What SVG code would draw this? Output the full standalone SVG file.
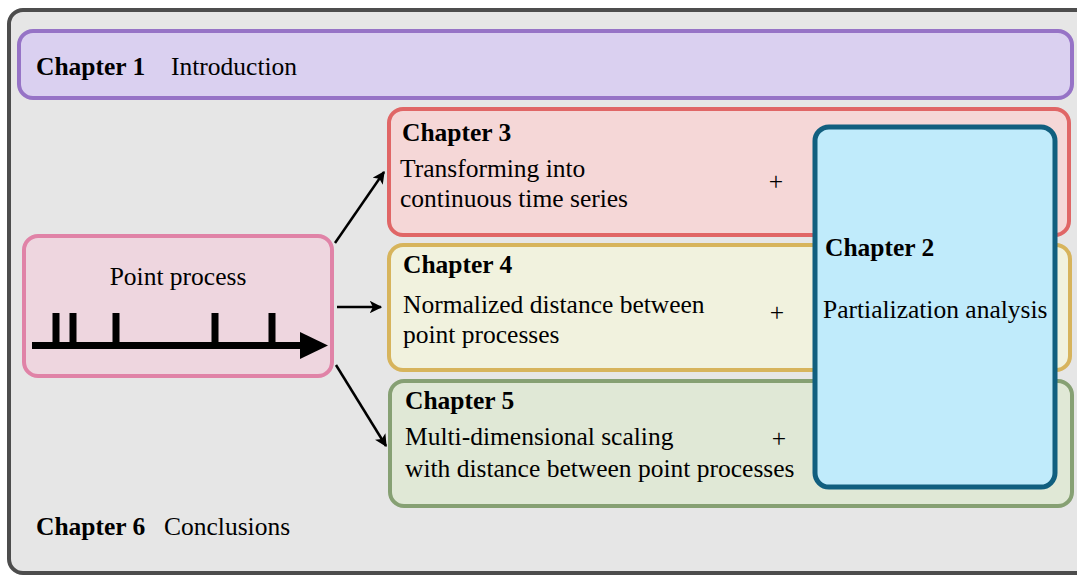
<svg xmlns="http://www.w3.org/2000/svg" width="1077" height="576" viewBox="0 0 1077 576">
<style>
text{font-family:"Liberation Serif","Times New Roman",serif;font-size:25.5px;fill:#000}
.b{font-weight:bold}
.conn{stroke:#000;stroke-width:2.5;fill:none}
</style>
<defs>
<marker id="ah" viewBox="0 0 10 10" refX="9" refY="5" markerWidth="5" markerHeight="5" orient="auto" markerUnits="strokeWidth">
<path d="M0,0 L10,5 L0,10 L2.5,5 Z" fill="#000"/>
</marker>
</defs>
<rect width="1077" height="576" fill="#fff"/>
<g id="ch6">
<rect x="9" y="10" width="1090" height="563" rx="14" fill="#e6e6e6" stroke="#4d4d4d" stroke-width="4"/>
<text x="36" y="535"><tspan class="b">Chapter 6</tspan><tspan x="164">Conclusions</tspan></text>
</g>
<g id="ch1">
<rect x="19" y="31" width="1053" height="67" rx="14" fill="#dad0f0" stroke="#9673c6" stroke-width="4"/>
<text x="36" y="75"><tspan class="b">Chapter 1</tspan><tspan x="171">Introduction</tspan></text>
</g>
<g id="pp">
<rect x="24" y="236" width="308" height="140" rx="14" fill="#eed6df" stroke="#e083a7" stroke-width="4"/>
<text x="178" y="285" text-anchor="middle">Point process</text>
<line x1="32" y1="345.5" x2="305" y2="345.5" stroke="#000" stroke-width="7"/>
<path d="M300,332 L328,345.5 L300,359 Z" fill="#000"/>
<g stroke="#000" stroke-width="7">
<line x1="56" y1="313" x2="56" y2="345"/>
<line x1="73" y1="313" x2="73" y2="345"/>
<line x1="116" y1="313" x2="116" y2="345"/>
<line x1="215" y1="313" x2="215" y2="345"/>
<line x1="272" y1="313" x2="272" y2="345"/>
</g>
</g>
<g id="ch3">
<rect x="389" y="109" width="680" height="126" rx="14" fill="#f5d7d7" stroke="#e06666" stroke-width="4"/>
<text x="402" y="141" class="b">Chapter 3</text>
<text x="400" y="177">Transforming into</text>
<text x="400" y="207">continuous time series</text>
<text x="776" y="190" text-anchor="middle">+</text>
</g>
<g id="ch4">
<rect x="389" y="245" width="681" height="125" rx="14" fill="#f1f2de" stroke="#d7b45c" stroke-width="4"/>
<text x="403" y="273" class="b">Chapter 4</text>
<text x="403" y="313">Normalized distance between</text>
<text x="403" y="343">point processes</text>
<text x="777" y="321" text-anchor="middle">+</text>
</g>
<g id="ch5">
<rect x="390" y="381" width="682" height="125" rx="14" fill="#e0e8d6" stroke="#86a073" stroke-width="4"/>
<text x="405" y="409" class="b">Chapter 5</text>
<text x="405" y="445">Multi-dimensional scaling</text>
<text x="405" y="477">with distance between point processes</text>
<text x="779" y="447" text-anchor="middle">+</text>
</g>
<g id="ch2">
<rect x="815" y="127" width="240" height="360" rx="14" fill="#c0ebfb" stroke="#115f7f" stroke-width="5"/>
<text x="825" y="256" class="b">Chapter 2</text>
<text x="823" y="318">Partialization analysis</text>
</g>
<g id="connectors">
<line class="conn" x1="335" y1="243" x2="384" y2="172" marker-end="url(#ah)"/>
<line class="conn" x1="337" y1="307" x2="381" y2="307" marker-end="url(#ah)"/>
<line class="conn" x1="336" y1="365" x2="386" y2="446" marker-end="url(#ah)"/>
</g>
</svg>
